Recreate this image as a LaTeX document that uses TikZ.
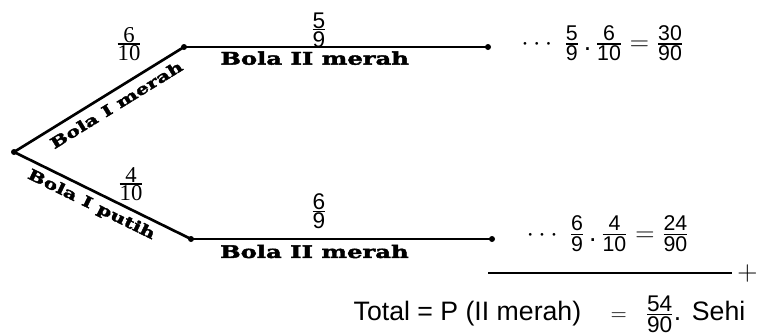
\RequirePackage{fix-cm}
\documentclass[tikz,border=0pt]{standalone}
\usepackage{amsmath}
\usepackage[no-math]{fontspec}
\setmainfont{Liberation Sans}
\newfontfamily\seriffont{Liberation Serif}
\newfontfamily\slabfont[FakeStretch=1.4,FakeBold=2.5]{DejaVu Serif}
\usetikzlibrary{positioning}
\newcommand{\fr}[3][16]{\genfrac{}{}{0.8pt}{1}{\mbox{\fontsize{#1}{#1}\selectfont #2}}{\mbox{\fontsize{#1}{#1}\selectfont #3}}}
\tikzset{
  dot/.style={circle,fill,inner sep=0pt,minimum size=4.5pt},
  branch/.style={line width=2pt},
  ballname/.style={font=\slabfont\bfseries\fontsize{13}{15}\selectfont},
}
\begin{document}
\begin{tikzpicture}[x=0.75pt,y=-0.75pt]
  \useasboundingbox (0,0) rectangle (758,333);
  \node[dot] (root) at (14,152) {};
  \node[dot] (merah1) at (184,47) {};
  \node[dot] (putih1) at (191,239) {};
  \node[dot] (merah2) at (488,47) {};
  \node[dot] (merah3) at (492,239) {};
  \draw[branch] (root.center) -- node[pos=0.56,sloped,below=2pt,ballname,scale=0.86]{Bola I merah} (merah1.center);
  \draw[branch] (root.center) -- node[pos=0.47,sloped,below=1pt,ballname,scale=0.86]{Bola I putih} (putih1.center);
  \draw[branch] (merah1.center) -- node[pos=0.43,below=-1pt,ballname]{Bola II merah} (merah2.center);
  \draw[branch] (putih1.center) -- node[pos=0.41,below=0pt,ballname]{Bola II merah} (merah3.center);
  \node (q1) at (319,30) {$\fr[17]{5}{9}$};
  \node (q2) at (319,211) {$\fr[17]{6}{9}$};
  \node[font=\seriffont] (p1) at (129,44) {$\fr[17]{6}{10}$};
  \node[font=\seriffont] (p2) at (131,184) {$\fr[17]{4}{10}$};
  \node[right=19pt of merah2,yshift=3pt,font=\fontsize{20}{22}\selectfont] (hasil1)
    {$\cdots$\ $\fr{5}{9}$\,.\,$\fr{6}{10}=\fr{30}{90}$};
  \node[right=20pt of merah3,yshift=4pt,font=\fontsize{20}{22}\selectfont] (hasil2)
    {$\cdots$\ $\fr{6}{9}$\,.\,$\fr{4}{10}=\fr{24}{90}$};
  \coordinate (jml1) at (488,273);
  \coordinate (jml2) at (732,273);
  \draw[line width=1.3pt] (jml1) -- (jml2) node[right=0pt,font=\fontsize{21}{21}\selectfont] (plus) {$+$};
  \node[anchor=base west,font=\fontsize{20}{22}\selectfont] (total) at (349,320)
    {Total = P (II merah)\hspace{22pt}{\fontsize{16}{18}\selectfont$=$\hspace{14pt}$\fr[17]{54}{90}$}.\hspace{8pt}Sehi};
\end{tikzpicture}
\end{document}
